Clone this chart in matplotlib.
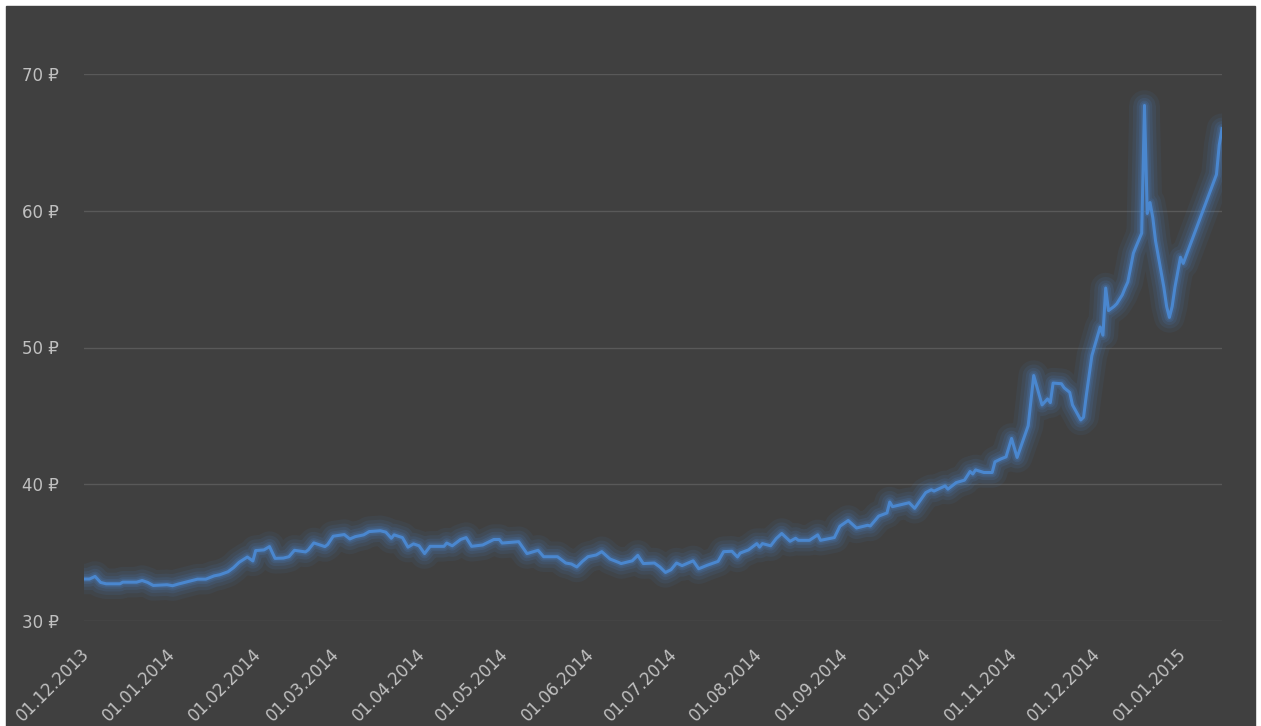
import matplotlib
matplotlib.use("Agg")
import matplotlib.pyplot as plt
import matplotlib.dates as mdates
import matplotlib.transforms as mtrans
from matplotlib.patches import Rectangle
from matplotlib.ticker import FuncFormatter
import pandas as pd

# USD/RUB rate
dates = [
    "01.12.2013", "03.12.2013", "05.12.2013", "07.12.2013", "09.12.2013", "14.12.2013",
    "15.12.2013", "20.12.2013", "22.12.2013", "24.12.2013", "26.12.2013", "31.12.2013",
    "02.01.2014", "04.01.2014", "09.01.2014", "11.01.2014", "14.01.2014", "17.01.2014",
    "19.01.2014", "22.01.2014", "24.01.2014", "26.01.2014", "29.01.2014", "31.01.2014",
    "01.02.2014", "04.02.2014", "06.02.2014", "08.02.2014", "11.02.2014", "13.02.2014",
    "15.02.2014", "19.02.2014", "20.02.2014", "22.02.2014", "26.02.2014", "27.02.2014",
    "01.03.2014", "05.03.2014", "07.03.2014", "09.03.2014", "12.03.2014", "14.03.2014",
    "18.03.2014", "20.03.2014", "22.03.2014", "23.03.2014", "26.03.2014", "28.03.2014",
    "30.03.2014", "01.04.2014", "03.04.2014", "05.04.2014", "10.04.2014", "11.04.2014",
    "13.04.2014", "16.04.2014", "18.04.2014", "20.04.2014", "24.04.2014", "28.04.2014",
    "30.04.2014", "01.05.2014", "07.05.2014", "10.05.2014", "14.05.2014", "16.05.2014",
    "21.05.2014", "24.05.2014", "26.05.2014", "28.05.2014", "30.05.2014", "01.06.2014",
    "04.06.2014", "06.06.2014", "09.06.2014", "12.06.2014", "13.06.2014", "17.06.2014",
    "19.06.2014", "21.06.2014", "25.06.2014", "27.06.2014", "29.06.2014", "01.07.2014",
    "03.07.2014", "05.07.2014", "09.07.2014", "11.07.2014", "14.07.2014", "18.07.2014",
    "20.07.2014", "23.07.2014", "25.07.2014", "26.07.2014", "29.07.2014", "01.08.2014",
    "02.08.2014", "03.08.2014", "06.08.2014", "08.08.2014", "10.08.2014", "13.08.2014",
    "15.08.2014", "16.08.2014", "20.08.2014", "23.08.2014", "24.08.2014", "29.08.2014",
    "31.08.2014", "03.09.2014", "06.09.2014", "10.09.2014", "11.09.2014", "14.09.2014",
    "17.09.2014", "18.09.2014", "19.09.2014", "25.09.2014", "27.09.2014", "01.10.2014",
    "03.10.2014", "04.10.2014", "08.10.2014", "09.10.2014", "12.10.2014", "15.10.2014",
    "17.10.2014", "18.10.2014", "19.10.2014", "22.10.2014", "25.10.2014", "26.10.2014",
    "28.10.2014", "30.10.2014", "01.11.2014", "03.11.2014", "07.11.2014", "09.11.2014",
    "12.11.2014", "14.11.2014", "15.11.2014", "16.11.2014", "19.11.2014", "20.11.2014",
    "22.11.2014", "23.11.2014", "26.11.2014", "27.11.2014", "28.11.2014", "30.11.2014",
    "03.12.2014", "04.12.2014", "05.12.2014", "06.12.2014", "08.12.2014", "09.12.2014",
    "11.12.2014", "12.12.2014", "13.12.2014", "15.12.2014", "16.12.2014", "18.12.2014",
    "19.12.2014", "20.12.2014", "21.12.2014", "22.12.2014", "23.12.2014", "26.12.2014",
    "27.12.2014", "28.12.2014", "29.12.2014", "30.12.2014", "01.01.2015", "02.01.2015",
    "14.01.2015", "15.01.2015", "16.01.2015",
]
rate = [
    33.07, 33.07, 33.26, 32.82, 32.72, 32.72,
    32.84, 32.84, 32.96, 32.82, 32.60, 32.65,
    32.58, 32.70, 32.96, 33.06, 33.06, 33.30,
    33.38, 33.60, 33.90, 34.29, 34.68, 34.39,
    35.15, 35.20, 35.44, 34.58, 34.60, 34.70,
    35.17, 35.05, 35.20, 35.71, 35.44, 35.59,
    36.20, 36.32, 36.00, 36.17, 36.30, 36.54,
    36.60, 36.50, 36.05, 36.30, 36.10, 35.40,
    35.64, 35.50, 34.93, 35.46, 35.46, 35.70,
    35.50, 35.96, 36.10, 35.46, 35.56, 35.96,
    35.96, 35.70, 35.80, 34.93, 35.17, 34.70,
    34.70, 34.24, 34.17, 33.95, 34.36, 34.70,
    34.83, 35.07, 34.53, 34.29, 34.20, 34.40,
    34.80, 34.20, 34.24, 33.95, 33.55, 33.75,
    34.24, 34.05, 34.40, 33.82, 34.07, 34.36,
    35.07, 35.10, 34.68, 34.97, 35.20, 35.66,
    35.40, 35.66, 35.50, 36.03, 36.40, 35.83,
    36.05, 35.90, 35.90, 36.30, 35.90, 36.10,
    36.93, 37.35, 36.80, 37.00, 36.95, 37.67,
    37.90, 38.70, 38.36, 38.65, 38.24, 39.39,
    39.60, 39.50, 39.88, 39.64, 40.12, 40.30,
    40.93, 40.75, 41.05, 40.86, 40.86, 41.64,
    41.84, 42.00, 43.35, 41.96, 44.28, 47.95,
    45.80, 46.24, 45.97, 47.40, 47.35, 47.05,
    46.72, 45.80, 44.70, 44.90, 46.50, 49.40,
    51.50, 50.90, 54.35, 52.70, 53.00, 53.20,
    53.85, 54.35, 54.80, 56.90, 57.40, 58.36,
    67.70, 59.80, 60.60, 59.50, 57.80, 54.40,
    53.00, 52.20, 53.00, 54.40, 56.60, 56.15,
    62.65, 64.80, 66.00,
]
y_ticks = [30, 40, 50, 60, 70]

bg = "#404040"
line_col = "#4A87CF"
text_col = "#C0C0C0"
grid_col = "#595959"

plt.rcParams["font.family"] = ["DejaVu Sans", "Noto Sans"]

x = pd.to_datetime(dates, format="%d.%m.%Y")

fig = plt.figure(figsize=(12.61, 7.26), dpi=100, facecolor="white")
fig.patches.append(Rectangle((6 / 1261, 0), 1249 / 1261, 720 / 726,
                             transform=fig.transFigure, color=bg, zorder=-10))
ax = fig.add_axes([84 / 1261, 1 - 621 / 726, 1138 / 1261, 547 / 726])
ax.set_facecolor("none")

# soft glow under the line
for lw, a in [(22, 0.07), (16, 0.10), (11, 0.13), (7, 0.17), (4.5, 0.2)]:
    ax.plot(x, rate, color=line_col, lw=lw, alpha=a,
            solid_joinstyle="round", solid_capstyle="round")
ax.plot(x, rate, color=line_col, lw=2.2, solid_joinstyle="round")

ax.set_xlim(x[0], x[-1])
ax.set_ylim(30, 70)
ax.set_yticks(y_ticks)
ax.yaxis.set_major_formatter(FuncFormatter(lambda v, p: f"{v:.0f} ₽"))
ax.grid(axis="y", color=grid_col, lw=1)
ax.set_axisbelow(True)

ax.xaxis.set_major_locator(mdates.MonthLocator())
ax.xaxis.set_major_formatter(mdates.DateFormatter("%d.%m.%Y"))
ax.tick_params(axis="both", length=0, colors=text_col, labelsize=12)
ax.tick_params(axis="y", pad=18)
ax.tick_params(axis="x", pad=22)
shift = mtrans.ScaledTranslation(3 / 100, 0, fig.dpi_scale_trans)
for lab in ax.get_xticklabels():
    lab.set_rotation(45)
    lab.set_ha("right")
    lab.set_va("center")
    lab.set_rotation_mode("anchor")
    lab.set_transform(lab.get_transform() + shift)

for s in ax.spines.values():
    s.set_visible(False)

fig.savefig("out.png", dpi=100, facecolor="white")
